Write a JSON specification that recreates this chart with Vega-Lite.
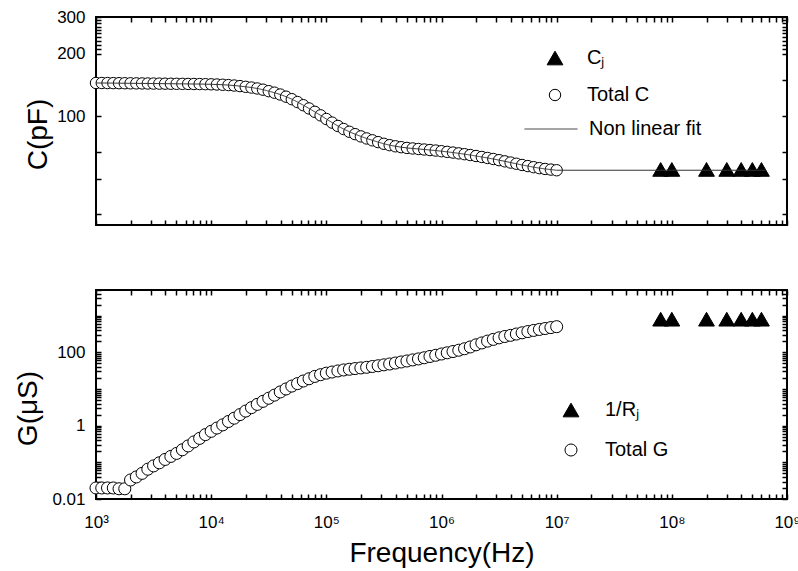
{
"$schema": "https://vega.github.io/schema/vega-lite/v6.json",
"background": "white",
"padding": {"left": 13, "top": 7, "right": 0, "bottom": 0},
"config": {
  "font": "Liberation Sans",
  "view": {"stroke": "black", "strokeWidth": 2},
  "axis": {"zindex": 1, "domain": false, "grid": false, "labelFont": "Liberation Sans", "labelFontSize": 17, "labelColor": "black", "tickColor": "black", "tickWidth": 1.5, "tickSize": -5, "titleFont": "Liberation Sans", "titleFontSize": 28, "titleFontWeight": "normal", "titleColor": "black", "labelFlush": false, "labelOverlap": false, "labelBound": false},
  "legend": {"labelFont": "Liberation Sans", "labelFontSize": 20, "labelColor": "black", "symbolStrokeColor": "black", "symbolStrokeWidth": 1, "padding": 0, "labelLimit": 300}
},
"datasets": {
  "cdata": [
    {"f":1000,"v":144.5},{"f":1122,"v":144.5},{"f":1259,"v":144.4},{"f":1413,"v":144.3},{"f":1585,"v":144.2},{"f":1778,"v":144.1},{"f":1995,"v":144},{"f":2239,"v":143.9},{"f":2512,"v":143.8},{"f":2818,"v":143.7},
    {"f":3162,"v":143.6},{"f":3548,"v":143.5},{"f":3981,"v":143.4},{"f":4467,"v":143.3},{"f":5012,"v":143.2},{"f":5623,"v":143.1},{"f":6310,"v":143},{"f":7079,"v":142.9},{"f":7943,"v":142.8},{"f":8913,"v":142.6},
    {"f":10000,"v":142.4},{"f":11220,"v":142.1},{"f":12590,"v":141.7},{"f":14130,"v":141.2},{"f":15850,"v":140.5},{"f":17780,"v":139.6},{"f":19950,"v":138.5},{"f":22390,"v":137.4},{"f":25120,"v":136},{"f":28180,"v":134.2},
    {"f":31620,"v":132},{"f":35480,"v":129.8},{"f":39810,"v":127.2},{"f":44670,"v":124.2},{"f":50120,"v":120.8},{"f":56230,"v":117},{"f":63100,"v":113},{"f":70790,"v":109},{"f":79430,"v":105},{"f":89130,"v":101},
    {"f":100000,"v":97},{"f":112200,"v":93.2},{"f":125900,"v":89.8},{"f":141300,"v":86.8},{"f":158500,"v":84.2},{"f":177800,"v":82},{"f":199500,"v":80},{"f":223900,"v":78.2},{"f":251200,"v":76.6},{"f":281800,"v":75.1},
    {"f":316200,"v":73.7},{"f":354800,"v":72.6},{"f":398100,"v":71.7},{"f":446700,"v":71},{"f":501200,"v":70.4},{"f":562300,"v":70},{"f":631000,"v":69.6},{"f":707900,"v":69.2},{"f":794300,"v":68.8},{"f":891300,"v":68.4},
    {"f":1000000,"v":67.9},{"f":1122000,"v":67.4},{"f":1259000,"v":66.9},{"f":1413000,"v":66.3},{"f":1585000,"v":65.7},{"f":1778000,"v":65.1},{"f":1995000,"v":64.4},{"f":2239000,"v":63.7},{"f":2512000,"v":63},{"f":2818000,"v":62.3},
    {"f":3162000,"v":61.5},{"f":3548000,"v":60.7},{"f":3981000,"v":59.9},{"f":4467000,"v":59.1},{"f":5012000,"v":58.3},{"f":5623000,"v":57.6},{"f":6310000,"v":56.9},{"f":7079000,"v":56.3},{"f":7943000,"v":55.8},{"f":8913000,"v":55.4},
    {"f":10000000,"v":55}
  ],
  "ctail": [{"f":10000000,"v":55},{"f":100000000,"v":55},{"f":650000000,"v":55}],
  "cj": [{"f":80000000,"v":55.5},{"f":100000000,"v":55.5},{"f":200000000,"v":55.5},{"f":300000000,"v":55.5},{"f":400000000,"v":55.5},{"f":500000000,"v":55.5},{"f":600000000,"v":55.5}],
  "gdata": [
    {"f":1000,"v":0.02},{"f":1122,"v":0.02},{"f":1259,"v":0.02},{"f":1413,"v":0.02},{"f":1585,"v":0.019},{"f":1778,"v":0.019},{"f":1995,"v":0.033},{"f":2239,"v":0.04},{"f":2512,"v":0.05},{"f":2818,"v":0.065},
    {"f":3162,"v":0.08},{"f":3548,"v":0.097},{"f":3981,"v":0.12},{"f":4467,"v":0.145},{"f":5012,"v":0.175},{"f":5623,"v":0.22},{"f":6310,"v":0.28},{"f":7079,"v":0.36},{"f":7943,"v":0.45},{"f":8913,"v":0.57},
    {"f":10000,"v":0.7},{"f":11220,"v":0.86},{"f":12590,"v":1.05},{"f":14130,"v":1.3},{"f":15850,"v":1.6},{"f":17780,"v":2},{"f":19950,"v":2.5},{"f":22390,"v":3.1},{"f":25120,"v":3.8},{"f":28180,"v":4.6},
    {"f":31620,"v":5.6},{"f":35480,"v":6.8},{"f":39810,"v":8.3},{"f":44670,"v":10},{"f":50120,"v":12},{"f":56230,"v":14},{"f":63100,"v":16.5},{"f":70790,"v":19},{"f":79430,"v":22},{"f":89130,"v":24.5},
    {"f":100000,"v":27},{"f":112200,"v":29},{"f":125900,"v":31},{"f":141300,"v":33},{"f":158500,"v":34.5},{"f":177800,"v":36},{"f":199500,"v":37.5},{"f":223900,"v":39},{"f":251200,"v":41},{"f":281800,"v":43},
    {"f":316200,"v":45.5},{"f":354800,"v":48},{"f":398100,"v":51},{"f":446700,"v":54.5},{"f":501200,"v":58},{"f":562300,"v":62},{"f":631000,"v":66},{"f":707900,"v":71},{"f":794300,"v":77},{"f":891300,"v":83},
    {"f":1000000,"v":90},{"f":1122000,"v":97},{"f":1259000,"v":105},{"f":1413000,"v":114},{"f":1585000,"v":125},{"f":1778000,"v":140},{"f":1995000,"v":160},{"f":2239000,"v":180},{"f":2512000,"v":202},{"f":2818000,"v":225},
    {"f":3162000,"v":248},{"f":3548000,"v":270},{"f":3981000,"v":290},{"f":4467000,"v":315},{"f":5012000,"v":340},{"f":5623000,"v":368},{"f":6310000,"v":395},{"f":7079000,"v":420},{"f":7943000,"v":445},{"f":8913000,"v":472},
    {"f":10000000,"v":500}
  ],
  "rj": [{"f":80000000,"v":800},{"f":100000000,"v":800},{"f":200000000,"v":800},{"f":300000000,"v":800},{"f":400000000,"v":800},{"f":500000000,"v":800},{"f":600000000,"v":800}]
},
"spacing": 53,
"resolve": {"scale": {"shape": "independent", "fill": "independent", "size": "independent", "stroke": "independent", "strokeDash": "independent"}, "legend": {"shape": "independent", "fill": "independent", "size": "independent", "stroke": "independent", "strokeDash": "independent"}},
"vconcat": [
  {
    "width": 691, "height": 208,
    "resolve": {"axis": {"x": "independent", "y": "independent"}},
    "layer": [
      {
        "data": {"name": "cdata"},
        "mark": {"type": "point", "filled": true, "strokeWidth": 1, "opacity": 1},
        "encoding": {
          "x": {"field": "f", "type": "quantitative", "scale": {"type": "log", "domain": [1000, 1000000000], "nice": false},
                "axis": {"orient": "bottom", "labels": false, "title": null,
                         "encode": {"ticks": {"update": {"y2": {"signal": "abs(log(datum.value)/LN10 - round(log(datum.value)/LN10)) < 0.001 ? -8 : -4"}}}},
                         "values": [1000,2000,3000,4000,5000,6000,7000,8000,9000,10000,20000,30000,40000,50000,60000,70000,80000,90000,100000,200000,300000,400000,500000,600000,700000,800000,900000,1000000,2000000,3000000,4000000,5000000,6000000,7000000,8000000,9000000,10000000,20000000,30000000,40000000,50000000,60000000,70000000,80000000,90000000,100000000,200000000,300000000,400000000,500000000,600000000,700000000,800000000,900000000,1000000000]}},
          "y": {"field": "v", "type": "quantitative", "scale": {"type": "log", "domain": [30, 300], "nice": false},
                "axis": {"orient": "left", "title": "C(pF)", "titlePadding": 4, "titleY": 117, "labelPadding": 16,
                         "labelExpr": "indexof([100,200,300], datum.value) >= 0 ? '' + datum.value : ''",
                         "encode": {"ticks": {"update": {"x2": {"signal": "indexof([100,200,300], datum.value) >= 0 ? 8 : 4"}}}},
                         "values": [34,50,67,100,150,200,210,220,230,240,250,260,270,280,290,300]}},
          "shape": {"datum": "Total C", "type": "nominal", "scale": {"domain": ["Cⱼ", "Total C"], "range": ["triangle-up", "circle"]},
                    "legend": {"orient": "none", "legendX": 449, "legendY": 31, "title": null, "labelOffset": 22, "rowPadding": 17}},
          "fill": {"datum": "Total C", "type": "nominal", "scale": {"domain": ["Cⱼ", "Total C"], "range": ["black", "white"]},
                    "legend": {"orient": "none", "legendX": 449, "legendY": 31, "title": null, "labelOffset": 22, "rowPadding": 17}},
          "stroke": {"datum": "Total C", "type": "nominal", "scale": {"domain": ["Cⱼ", "Total C"], "range": ["black", "black"]},
                    "legend": {"orient": "none", "legendX": 449, "legendY": 31, "title": null, "labelOffset": 22, "rowPadding": 17}},
          "size": {"datum": "Total C", "type": "nominal", "scale": {"domain": ["Cⱼ", "Total C"], "range": [250, 130]},
                    "legend": {"orient": "none", "legendX": 449, "legendY": 31, "title": null, "labelOffset": 22, "rowPadding": 17}}
        }
      },
      {
        "data": {"name": "cj"},
        "mark": {"type": "point", "filled": true, "strokeWidth": 1, "opacity": 1},
        "encoding": {
          "x": {"field": "f", "type": "quantitative", "scale": {"type": "log", "domain": [1000, 1000000000], "nice": false}, "axis": null},
          "y": {"field": "v", "type": "quantitative", "scale": {"type": "log", "domain": [30, 300], "nice": false}, "axis": null},
          "shape": {"datum": "Cⱼ", "type": "nominal"},
          "fill": {"datum": "Cⱼ", "type": "nominal"},
          "stroke": {"datum": "Cⱼ", "type": "nominal"},
          "size": {"datum": "Cⱼ", "type": "nominal"}
        }
      },
      {
        "data": {"name": "cdata"},
        "mark": {"type": "line", "strokeWidth": 1, "stroke": "#333333"},
        "encoding": {
          "x": {"field": "f", "type": "quantitative", "scale": {"type": "log", "domain": [1000, 1000000000], "nice": false},
                "axis": {"orient": "top", "labels": false, "title": null,
                         "encode": {"ticks": {"update": {"y2": {"signal": "abs(log(datum.value)/LN10 - round(log(datum.value)/LN10)) < 0.001 ? 8 : 4"}}}},
                         "values": [1000,2000,3000,4000,5000,6000,7000,8000,9000,10000,20000,30000,40000,50000,60000,70000,80000,90000,100000,200000,300000,400000,500000,600000,700000,800000,900000,1000000,2000000,3000000,4000000,5000000,6000000,7000000,8000000,9000000,10000000,20000000,30000000,40000000,50000000,60000000,70000000,80000000,90000000,100000000,200000000,300000000,400000000,500000000,600000000,700000000,800000000,900000000,1000000000]}},
          "y": {"field": "v", "type": "quantitative", "scale": {"type": "log", "domain": [30, 300], "nice": false},
                "axis": {"orient": "right", "labels": false, "title": null,
                         "encode": {"ticks": {"update": {"x2": {"signal": "indexof([100,200,300], datum.value) >= 0 ? -8 : -4"}}}},
                         "values": [34,50,67,100,150,200,210,220,230,240,250,260,270,280,290,300]}},
          "strokeDash": {"datum": "Non linear fit", "type": "nominal", "scale": {"domain": ["Non linear fit"], "range": [[1, 0]]},
                     "legend": {"orient": "none", "legendX": 428, "legendY": 85, "title": null, "symbolType": "stroke", "symbolSize": 2809, "symbolStrokeWidth": 1, "symbolStrokeColor": "#333333", "labelOffset": 11}}
        }
      },
      {
        "data": {"name": "ctail"},
        "mark": {"type": "line", "strokeWidth": 1, "stroke": "#333333"},
        "encoding": {
          "x": {"field": "f", "type": "quantitative", "scale": {"type": "log", "domain": [1000, 1000000000], "nice": false}, "axis": null},
          "y": {"field": "v", "type": "quantitative", "scale": {"type": "log", "domain": [30, 300], "nice": false}, "axis": null}
        }
      }
    ]
  },
  {
    "width": 691, "height": 209,
    "resolve": {"axis": {"x": "independent", "y": "independent"}},
    "layer": [
      {
        "data": {"name": "gdata"},
        "mark": {"type": "point", "filled": true, "strokeWidth": 1, "opacity": 1},
        "encoding": {
          "x": {"field": "f", "type": "quantitative", "scale": {"type": "log", "domain": [1000, 1000000000], "nice": false},
                "axis": {"orient": "bottom", "title": "Frequency(Hz)", "titlePadding": 9, "labelPadding": 20,
                         "labelExpr": "abs(log(datum.value)/LN10 - round(log(datum.value)/LN10)) < 0.001 ? '10' + ['⁰','¹','²','³','⁴','⁵','⁶','⁷','⁸','⁹'][round(log(datum.value)/LN10)] : ''",
                         "encode": {"ticks": {"update": {"y2": {"signal": "abs(log(datum.value)/LN10 - round(log(datum.value)/LN10)) < 0.001 ? -8 : -4"}}}},
                         "values": [1000,2000,3000,4000,5000,6000,7000,8000,9000,10000,20000,30000,40000,50000,60000,70000,80000,90000,100000,200000,300000,400000,500000,600000,700000,800000,900000,1000000,2000000,3000000,4000000,5000000,6000000,7000000,8000000,9000000,10000000,20000000,30000000,40000000,50000000,60000000,70000000,80000000,90000000,100000000,200000000,300000000,400000000,500000000,600000000,700000000,800000000,900000000,1000000000]}},
          "y": {"field": "v", "type": "quantitative", "scale": {"type": "log", "domain": [0.01, 5000], "nice": false},
                "axis": {"orient": "left", "title": "G(μS)", "titlePadding": 9, "titleY": 118, "labelPadding": 16,
                         "labelExpr": "datum.value == 0.01 ? '0.01' : datum.value == 1 ? '1' : datum.value == 100 ? '100' : ''",
                         "encode": {"ticks": {"update": {"x2": {"signal": "abs(log(datum.value)/LN10 - round(log(datum.value)/LN10)) < 0.001 ? 8 : 4"}}}},
                         "values": [0.01,0.02,0.03,0.04,0.05,0.06,0.07,0.08,0.09,0.1,0.2,0.3,0.4,0.5,0.6,0.7,0.8,0.9,1,2,3,4,5,6,7,8,9,10,20,30,40,50,60,70,80,90,100,200,300,400,500,600,700,800,900,1000,2000,3000,4000,5000]}},
          "shape": {"datum": "Total G", "type": "nominal", "scale": {"domain": ["1/Rⱼ", "Total G"], "range": ["triangle-up", "circle"]},
                    "legend": {"orient": "none", "legendX": 465, "legendY": 110, "title": null, "labelOffset": 24, "rowPadding": 20}},
          "fill": {"datum": "Total G", "type": "nominal", "scale": {"domain": ["1/Rⱼ", "Total G"], "range": ["black", "white"]},
                    "legend": {"orient": "none", "legendX": 465, "legendY": 110, "title": null, "labelOffset": 24, "rowPadding": 20}},
          "stroke": {"datum": "Total G", "type": "nominal", "scale": {"domain": ["1/Rⱼ", "Total G"], "range": ["black", "black"]},
                    "legend": {"orient": "none", "legendX": 465, "legendY": 110, "title": null, "labelOffset": 24, "rowPadding": 20}},
          "size": {"datum": "Total G", "type": "nominal", "scale": {"domain": ["1/Rⱼ", "Total G"], "range": [250, 145]},
                    "legend": {"orient": "none", "legendX": 465, "legendY": 110, "title": null, "labelOffset": 24, "rowPadding": 20}}
        }
      },
      {
        "data": {"name": "rj"},
        "mark": {"type": "point", "filled": true, "strokeWidth": 1, "opacity": 1},
        "encoding": {
          "x": {"field": "f", "type": "quantitative", "scale": {"type": "log", "domain": [1000, 1000000000], "nice": false},
                "axis": {"orient": "top", "labels": false, "title": null,
                         "encode": {"ticks": {"update": {"y2": {"signal": "abs(log(datum.value)/LN10 - round(log(datum.value)/LN10)) < 0.001 ? 8 : 4"}}}},
                         "values": [1000,2000,3000,4000,5000,6000,7000,8000,9000,10000,20000,30000,40000,50000,60000,70000,80000,90000,100000,200000,300000,400000,500000,600000,700000,800000,900000,1000000,2000000,3000000,4000000,5000000,6000000,7000000,8000000,9000000,10000000,20000000,30000000,40000000,50000000,60000000,70000000,80000000,90000000,100000000,200000000,300000000,400000000,500000000,600000000,700000000,800000000,900000000,1000000000]}},
          "y": {"field": "v", "type": "quantitative", "scale": {"type": "log", "domain": [0.01, 5000], "nice": false},
                "axis": {"orient": "right", "labels": false, "title": null,
                         "encode": {"ticks": {"update": {"x2": {"signal": "abs(log(datum.value)/LN10 - round(log(datum.value)/LN10)) < 0.001 ? -8 : -4"}}}},
                         "values": [0.01,0.02,0.03,0.04,0.05,0.06,0.07,0.08,0.09,0.1,0.2,0.3,0.4,0.5,0.6,0.7,0.8,0.9,1,2,3,4,5,6,7,8,9,10,20,30,40,50,60,70,80,90,100,200,300,400,500,600,700,800,900,1000,2000,3000,4000,5000]}},
          "shape": {"datum": "1/Rⱼ", "type": "nominal"},
          "fill": {"datum": "1/Rⱼ", "type": "nominal"},
          "stroke": {"datum": "1/Rⱼ", "type": "nominal"},
          "size": {"datum": "1/Rⱼ", "type": "nominal"}
        }
      }
    ]
  }
]
}
